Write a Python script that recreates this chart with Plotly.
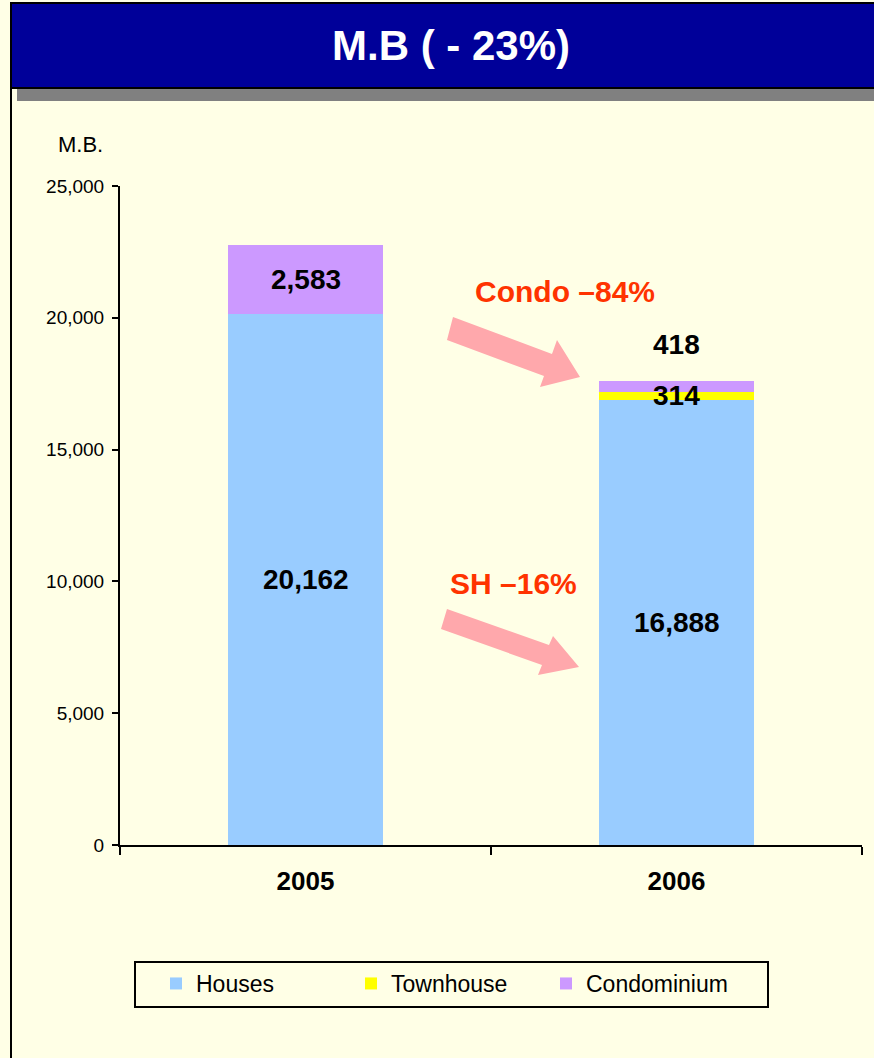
import plotly.graph_objects as go

# ---- data ----
years = ["2005", "2006"]
houses = [20162, 16888]
townhouse = [0, 314]
condominium = [2583, 418]
series_names = ["Houses", "Townhouse", "Condominium"]
series_colors = ["#99CCFF", "#FFFF00", "#CC99FF"]
y_ticks = [0, 5000, 10000, 15000, 20000, 25000]
title_text = "M.B ( - 23%)"
y_title = "M.B."
condo_note = "Condo \u201384%"
sh_note = "SH \u201316%"

W, H = 874, 1058
ML, MR, MT, MB = 120, 12, 186, 213
PW, PH = W - ML - MR, H - MT - MB
FONT = "Liberation Sans, Arial, sans-serif"
BG = "#FFFFE6"


def px(x):
    return (x - ML) / PW


def py(y):
    return (H - MB - y) / PH


fig = go.Figure()
for name, vals, col in zip(series_names, [houses, townhouse, condominium], series_colors):
    fig.add_trace(go.Bar(x=years, y=vals, name=name, marker=dict(color=col, line=dict(width=0)),
                         width=0.42, hoverinfo="x+y+name"))

annotations = []
# segment labels (x given as category index)
lab_font = dict(family=FONT, size=28, color="black", weight="bold")
base = dict(showarrow=False, font=lab_font, xref="x", yref="y", xanchor="center", yanchor="middle")
for i in range(len(years)):
    annotations.append(dict(base, x=i, y=houses[i] / 2, text=f"{houses[i]:,}"))
annotations.append(dict(base, x=0, y=houses[0] + townhouse[0] + condominium[0] / 2,
                        text=f"{condominium[0]:,}"))
annotations.append(dict(base, x=1, y=houses[1] + townhouse[1] / 2, text=f"{townhouse[1]:,}"))
annotations.append(dict(base, x=1, y=houses[1] + townhouse[1] + condominium[1],
                        text=f"{condominium[1]:,}", yshift=36))

pbase = dict(showarrow=False, xref="paper", yref="paper", xanchor="center", yanchor="middle")
# notes
note_font = dict(family=FONT, size=30, color="#FF3300", weight="bold")
annotations.append(dict(pbase, x=px(565), y=py(291), text=condo_note, font=note_font))
annotations.append(dict(pbase, x=px(513), y=py(583), text=sh_note, font=note_font))
# title and axis unit
annotations.append(dict(pbase, x=px(451), y=py(45), text=title_text,
                        font=dict(family=FONT, size=42, color="white", weight="bold")))
annotations.append(dict(pbase, x=px(80), y=py(144), text=y_title,
                        font=dict(family=FONT, size=22, color="black")))


def poly(points):
    return "M " + " L ".join(f"{px(x):.5f},{py(y):.5f}" for x, y in points) + " Z"


shapes = []
# title bar shadow
shapes.append(dict(type="rect", xref="paper", yref="paper", x0=px(17), x1=px(880), y0=py(101), y1=py(88),
                   fillcolor="#808080", line=dict(width=0), layer="below"))
# title bar
shapes.append(dict(type="rect", xref="paper", yref="paper", x0=px(11), x1=px(880), y0=py(88), y1=py(3),
                   fillcolor="#000099", line=dict(color="black", width=2), layer="below"))
# left border line
shapes.append(dict(type="line", xref="paper", yref="paper", x0=px(11), x1=px(11), y0=py(3), y1=py(1070),
                   line=dict(color="black", width=2)))
# legend frame
shapes.append(dict(type="rect", xref="paper", yref="paper", x0=px(135), x1=px(768), y0=py(1007), y1=py(962),
                   fillcolor="rgba(0,0,0,0)", line=dict(color="black", width=2)))
# arrows
arrow_col = "#FFA8AC"
condo_arrow = [(453, 317), (552, 354), (557, 340), (580, 377), (540, 387), (544, 376), (447, 340)]
sh_arrow = [(447, 609), (549, 645), (553, 636), (579, 667), (538, 675), (542, 665), (441, 629)]
for pts in (condo_arrow, sh_arrow):
    shapes.append(dict(type="path", xref="paper", yref="paper", path=poly(pts),
                       fillcolor=arrow_col, line=dict(width=0)))

fig.update_layout(
    barmode="stack",
    width=W, height=H, autosize=False,
    margin=dict(l=ML, r=MR, t=MT, b=MB, pad=0),
    paper_bgcolor=BG, plot_bgcolor=BG,
    font=dict(family=FONT, color="black"),
    annotations=annotations,
    shapes=shapes,
    showlegend=True,
    legend=dict(orientation="h", x=px(156), y=py(962), xanchor="left", yanchor="top",
                bgcolor="rgba(0,0,0,0)", borderwidth=0,
                font=dict(family=FONT, size=23, color="black"),
                entrywidth=150, entrywidthmode="pixels", traceorder="normal"),
    xaxis=dict(type="category", range=[-0.5, 1.5], showline=True, linecolor="black", linewidth=2,
               ticks="outside", tickson="boundaries", ticklen=8, tickwidth=1.5, tickcolor="black",
               tickfont=dict(family=FONT, size=26, color="black", weight="bold"),
               ticklabelstandoff=12, showgrid=False, zeroline=False, fixedrange=True),
    yaxis=dict(range=[0, 25000], tickvals=y_ticks, tickformat=",", showline=True, linecolor="black",
               linewidth=2, ticks="outside", ticklen=6, tickwidth=1.5, tickcolor="black",
               tickfont=dict(family=FONT, size=19, color="black"), ticklabelstandoff=4,
               showgrid=False, zeroline=False, fixedrange=True),
)

fig.write_html("out.html", config={"displayModeBar": False},
               post_script="document.body.style.margin='0';")
